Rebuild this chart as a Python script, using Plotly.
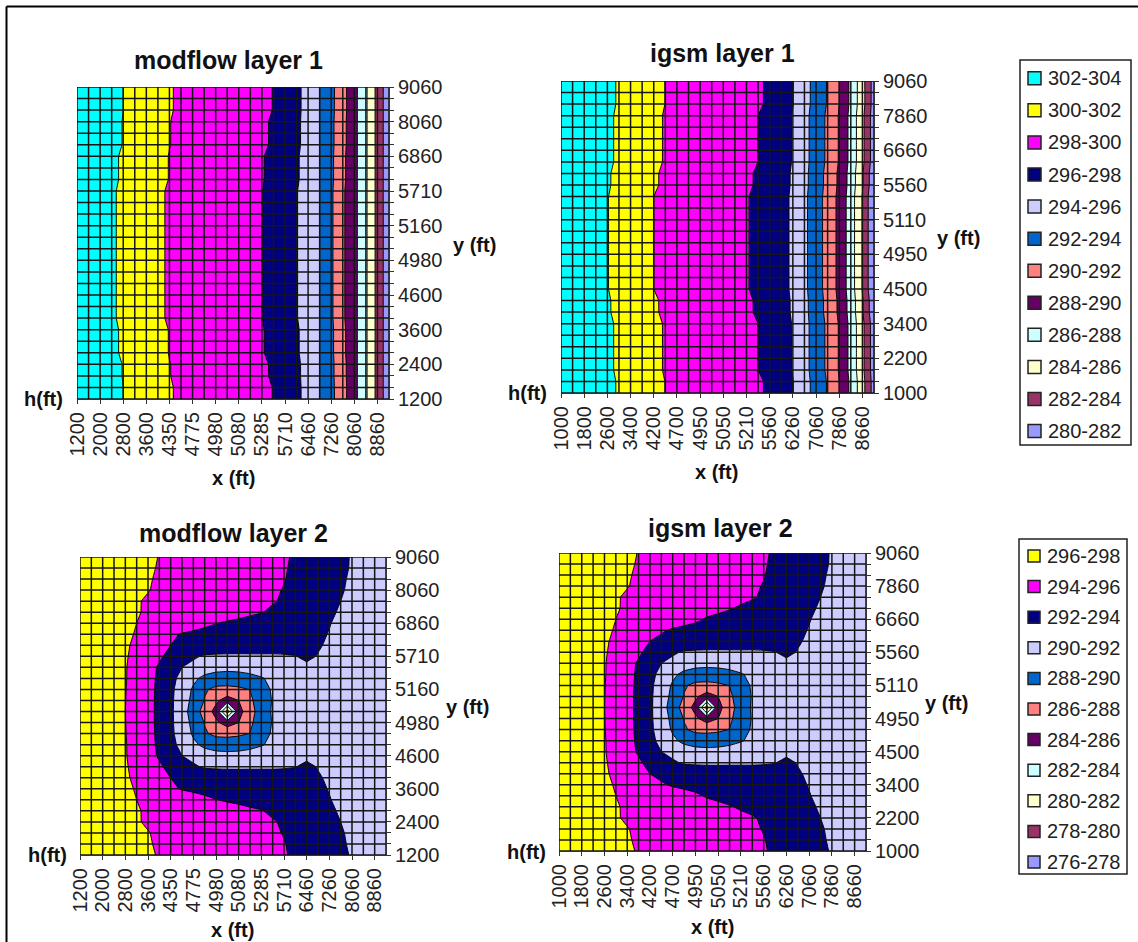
import plotly.graph_objects as go

# grid categories
MOD_CATS = ["1200","1600","2000","2400","2800","3200","3600","4000","4350","4600","4775","4900","4980","5020",
            "5080","5160","5285","5400","5710","6060","6460","6860","7260","7660","8060","8460","8860","9060"]
IGS_CATS = ["1000","1400","1800","2200","2600","3000","3400","3800","4200","4500","4700","4850","4950","5000",
            "5050","5110","5210","5300","5560","5900","6260","6660","7060","7460","7860","8260","8660","9060"]

# legends
LEG1_LABELS = ["302-304","300-302","298-300","296-298","294-296","292-294","290-292","288-290","286-288","284-286","282-284","280-282"]
LEG2_LABELS = ["296-298","294-296","292-294","290-292","288-290","286-288","284-286","282-284","280-282","278-280","276-278"]
COL1 = ["#00FFFF","#FFFF00","#FF00FF","#000080","#CCCCFF","#0066CC","#FF8080","#660066","#CCFFFF","#FFFFCC","#993366","#9999FF"]
COL2 = COL1[1:]

# modflow layer 1 head profiles along x
M1_T = [303.8,303.4,302.9,302.5,302.0,301.5,301.05,300.6,300.1,299.8,299.6,299.4,299.15,298.9,298.7,298.45,298.25,297.97,297.2,296.45,295.3,294.0,292.5,290.7,288.6,286.3,283.4,280.6]
M1_A = [303.75,303.35,302.85,302.45,301.95,301.45,301.0,300.55,300.03,299.75,299.55,299.35,299.1,298.85,298.65,298.4,298.2,297.85,297.1,296.4,295.25,294.0,292.45,290.6,288.6,286.3,283.4,280.6]
M1_B = [303.65,303.2,302.8,302.3,301.8,301.3,300.9,300.45,299.95,299.7,299.5,299.3,299.05,298.85,298.6,298.35,298.1,297.6,296.9,296.25,295.15,294.0,292.4,290.45,288.6,286.3,283.4,280.6]
M1_M = [303.6,303.1,302.7,302.2,301.7,301.2,300.8,300.3,299.8,299.6,299.4,299.2,299.0,298.8,298.5,298.3,298.03,297.4,296.7,296.1,295.0,294.0,292.3,290.3,288.6,286.3,283.4,280.6]
MOD_L1 = [M1_T,M1_T,M1_A,M1_A,M1_B,M1_B,M1_B,M1_M,M1_M,M1_M,M1_M,M1_M,M1_M,M1_M,M1_M,M1_M,M1_M,M1_M,M1_M,M1_B,M1_B,M1_B,M1_A,M1_A,M1_A,M1_T,M1_T,M1_T]

# igsm layer 1 head profiles along x
I1_T = [303.9,303.5,303.2,302.8,302.4,301.85,301.4,300.9,300.45,299.98,299.75,299.55,299.3,299.1,298.85,298.6,298.4,298.17,297.8,296.95,296.05,294.7,293.3,291.85,290.0,287.6,284.75,281.1]
I1_A = [303.8,303.4,303.1,302.7,302.3,301.75,301.3,300.8,300.3,299.9,299.7,299.45,299.2,299.0,298.75,298.5,298.3,298.0,297.6,296.8,295.9,294.6,293.1,291.65,289.85,287.4,284.5,280.9]
I1_B = [303.75,303.35,303.0,302.6,302.15,301.65,301.15,300.65,300.15,299.8,299.6,299.35,299.1,298.9,298.65,298.45,298.2,297.85,297.3,296.65,295.8,294.5,293.0,291.45,289.65,287.2,284.2,280.5]
I1_M = [303.7,303.3,302.9,302.5,302.05,301.55,301.05,300.5,300.0,299.75,299.5,299.3,299.05,298.8,298.6,298.35,298.1,297.65,297.05,296.6,295.7,294.4,292.9,291.3,289.5,287.0,283.9,280.1]
IGS_L1 = [I1_T,I1_T,I1_A,I1_A,I1_A,I1_A,I1_A,I1_B,I1_B,I1_M,I1_M,I1_M,I1_M,I1_M,I1_M,I1_M,I1_M,I1_M,I1_B,I1_B,I1_A,I1_A,I1_A,I1_A,I1_A,I1_T,I1_T,I1_T]

# layer 2 head profiles along x, one per grid row
R27 = [297.8,297.6,297.4,297.2,296.9,296.6,296.3,295.95,295.75,295.6,295.45,295.3,295.15,295.0,294.85,294.7,294.55,294.4,294.15,293.85,293.4,293.0,292.7,292.3,291.9,291.5,291.2,290.9]
R26 = [297.8,297.6,297.4,297.15,296.85,296.5,296.2,295.9,295.7,295.55,295.4,295.25,295.1,294.95,294.8,294.65,294.5,294.35,294.1,293.8,293.35,292.95,292.65,292.25,291.9,291.5,291.2,290.9]
R25 = [297.75,297.55,297.3,297.1,296.8,296.4,296.1,295.85,295.65,295.5,295.35,295.2,295.05,294.9,294.75,294.6,294.45,294.3,294.05,293.75,293.3,292.9,292.6,292.15,291.85,291.5,291.2,290.9]
R24 = [297.75,297.5,297.25,297.0,296.7,296.35,296.05,295.8,295.6,295.4,295.25,295.1,294.95,294.8,294.65,294.5,294.35,294.15,293.95,293.6,293.2,292.8,292.5,292.1,291.8,291.45,291.2,290.9]
R23 = [297.7,297.4,297.1,296.8,296.5,296.1,295.85,295.6,295.4,295.25,295.1,294.95,294.8,294.65,294.5,294.35,294.2,294.1,293.85,293.35,293.0,292.65,292.3,292.0,291.7,291.4,291.15,290.9]
R22 = [297.65,297.3,297.0,296.65,296.35,296.15,295.75,295.45,295.25,295.05,294.9,294.75,294.6,294.4,294.3,294.15,294.05,293.8,293.5,293.2,292.85,292.5,292.15,291.9,291.6,291.35,291.1,290.9]
R21 = [297.6,297.2,296.9,296.55,296.25,296.0,295.65,295.35,295.1,294.85,294.55,294.25,294.02,293.9,293.8,293.7,293.55,293.4,293.2,292.9,292.6,292.3,292.05,291.75,291.5,291.25,291.05,290.85]
R20 = [297.55,297.25,296.95,296.6,296.25,295.9,295.25,294.8,294.25,293.9,293.75,293.65,293.6,293.55,293.5,293.4,293.25,293.1,292.85,292.6,292.45,292.2,291.95,291.6,291.4,291.2,291.0,290.8]
R19 = [297.5,297.15,296.85,296.55,296.2,295.7,295.15,294.55,294.0,293.7,293.55,293.45,293.4,293.35,293.3,293.2,293.05,292.85,292.65,292.4,292.25,292.1,291.85,291.55,291.35,291.15,291.0,290.8]
R18 = [297.45,297.1,296.8,296.45,296.15,295.55,294.9,294.25,293.5,292.7,292.3,291.75,291.65,291.6,291.6,291.65,291.7,291.75,291.85,291.97,292.2,291.95,291.7,291.4,291.2,291.1,290.95,290.8]
R17 = [297.4,297.05,296.75,296.4,296.1,295.35,294.6,293.8,292.9,292.0,291.4,291.0,290.75,290.7,290.7,290.8,291.0,291.2,291.4,291.6,291.8,291.7,291.5,291.25,291.1,291.0,290.9,290.8]
R16 = [297.35,297.0,296.7,296.4,296.1,295.3,294.55,293.7,292.5,291.5,290.4,289.5,289.0,288.8,289.0,289.4,289.85,290.4,290.7,290.95,291.15,291.2,291.1,291.0,290.95,290.9,290.85,290.8]
R15 = [297.3,297.0,296.65,296.35,296.05,295.25,294.5,293.65,292.4,291.1,289.75,288.2,287.6,287.6,287.7,288.05,289.1,290.25,290.55,290.75,290.9,290.95,290.95,290.9,290.85,290.8,290.8,290.75]
R14 = [297.3,297.0,296.65,296.3,296.02,295.25,294.5,293.6,292.35,290.95,289.5,287.9,286.4,285.0,286.0,287.6,289.1,290.1,290.45,290.65,290.8,290.85,290.85,290.85,290.8,290.8,290.75,290.75]
R13 = [297.3,297.0,296.6,296.3,296.0,295.25,294.5,293.6,292.35,290.85,289.1,287.2,285.3,279.0,285.3,287.2,289.0,290.2,290.4,290.6,290.75,290.8,290.85,290.85,290.8,290.8,290.75,290.7]
MOD_L2 = [R26,R25,R24,R23,R22,R21,R20,R19,R18,R17,R16,R15,R14,R13,R14,R15,R16,R17,R18,R19,R20,R21,R22,R23,R24,R25,R26,R27]
# igsm layer 2 only differs noticeably from modflow on a few rows
I22 = [297.65,297.3,297.0,296.65,296.35,296.15,295.75,295.45,295.25,295.05,294.9,294.75,294.6,294.4,294.2,294.06,293.9,293.7,293.45,293.15,292.85,292.5,292.15,291.9,291.6,291.35,291.1,290.9]
I21 = [297.6,297.2,296.9,296.55,296.25,296.0,295.65,295.35,295.15,294.95,294.7,294.45,294.2,293.9,293.8,293.7,293.55,293.4,293.2,292.9,292.6,292.3,292.05,291.75,291.5,291.25,291.05,290.85]
I20 = [297.55,297.25,296.95,296.6,296.25,295.9,295.25,294.9,294.55,294.15,293.85,293.7,293.6,293.55,293.5,293.4,293.25,293.1,292.85,292.6,292.45,292.2,291.95,291.6,291.4,291.2,291.0,290.8]
IGS_L2 = [R26,R25,R24,R23,I22,I21,I20,R19,R18,R17,R16,R15,R14,R13,R14,R15,R16,R17,R18,R19,I20,I21,I22,R23,R24,R25,R26,R27]

PANELS = [
    dict(name="modflow layer 1", cats=MOD_CATS, z=MOD_L1, start=280, end=302, colors=COL1[::-1], box=(77,389,87,399),
         title=(228,60), xt=(233,478), yt=(474,245), ht=(43,399)),
    dict(name="igsm layer 1", cats=IGS_CATS, z=IGS_L1, start=280, end=302, colors=COL1[::-1], box=(561,874,81,393),
         title=(722,53), xt=(717,472), yt=(958,238), ht=(527,393)),
    dict(name="modflow layer 2", cats=MOD_CATS, z=MOD_L2, start=276, end=296, colors=COL2[::-1], box=(80,386,557,855),
         title=(233,533), xt=(232,930), yt=(467,707), ht=(47,855)),
    dict(name="igsm layer 2", cats=IGS_CATS, z=IGS_L2, start=276, end=296, colors=COL2[::-1], box=(559,866,553,851),
         title=(720,528), xt=(712,927), yt=(946,703), ht=(526,852)),
]
LEGENDS = [
    dict(labels=LEG1_LABELS, colors=COL1, box=(1020,1131,60,445), sw=(1028,1041), text=1047, first=78.3, step=32.07),
    dict(labels=LEG2_LABELS, colors=COL2, box=(1019,1127,539,874), sw=(1028,1040), text=1046, first=556, step=30.6),
]

W, H = 1138, 942
FONT = "Liberation Sans"
TXT = "#222222"
fig = go.Figure()
layout = {}
ann = []
shapes = []

def px(x): return x / W
def py(y): return 1 - y / H

def step_scale(colors):
    # plotly evaluates a filled band k of n contour levels at (k + 1) / n
    n = len(colors)
    return [[0, colors[0]]] + [[(k + 1) / n, colors[k]] for k in range(n)]

for i, p in enumerate(PANELS, start=1):
    xa, ya = f"x{i}", f"y{i}"
    cats = p["cats"]
    fig.add_trace(go.Contour(
        x=cats, y=cats, z=p["z"], xaxis=xa, yaxis=ya,
        autocontour=False,
        contours=dict(start=p["start"], end=p["end"], size=2, coloring="fill", showlines=True),
        colorscale=step_scale(p["colors"]),
        line=dict(color="#000000", width=1, smoothing=0),
        showscale=False, hoverinfo="skip", showlegend=False,
    ))
    gx, gy = [], []
    for c in cats:
        gx += [c, c, None]; gy += [cats[0], cats[-1], None]
    for c in cats:
        gx += [cats[0], cats[-1], None]; gy += [c, c, None]
    fig.add_trace(go.Scatter(x=gx, y=gy, xaxis=xa, yaxis=ya, mode="lines",
                             line=dict(color="#151515", width=1.5), hoverinfo="skip", showlegend=False))
    l, r, t, b = p["box"]
    layout[f"xaxis{i}"] = dict(
        domain=[px(l), px(r)], anchor=ya, type="category", categoryorder="array", categoryarray=cats,
        range=[0, 27], tickmode="array", tickvals=cats[::2], ticktext=cats[::2], tickangle=-90,
        ticks="outside", ticklen=4, tickcolor="#333333", showgrid=False, zeroline=False,
        showline=True, linecolor="#333333", linewidth=1, tickfont=dict(size=20, family=FONT, color=TXT))
    layout[f"yaxis{i}"] = dict(
        domain=[py(b), py(t)], anchor=xa, side="right", type="category", categoryorder="array", categoryarray=cats,
        range=[0, 27], tickmode="array", tickvals=cats,
        ticktext=[c if k % 3 == 0 else "" for k, c in enumerate(cats)],
        ticks="outside", ticklen=4, tickcolor="#333333", showgrid=False, zeroline=False,
        showline=True, linecolor="#333333", linewidth=1, tickfont=dict(size=20, family=FONT, color=TXT))
    for key, txt, size in (("title", p["name"], 25), ("xt", "x (ft)", 20), ("yt", "y (ft)", 20), ("ht", "h(ft)", 20)):
        ax, ay = p[key]
        ann.append(dict(x=px(ax), y=py(ay), xref="paper", yref="paper", text=f"<b>{txt}</b>", showarrow=False,
                        xanchor="center", yanchor="middle", font=dict(size=size, family=FONT, color="#111111")))

for leg in LEGENDS:
    l, r, t, b = leg["box"]
    shapes.append(dict(type="rect", xref="paper", yref="paper", x0=px(l), x1=px(r), y0=py(b), y1=py(t),
                       line=dict(color="#222222", width=1.5), fillcolor="#FFFFFF"))
    s0, s1 = leg["sw"]
    half = (s1 - s0) / 2
    for k, (lab, col) in enumerate(zip(leg["labels"], leg["colors"])):
        yc = leg["first"] + k * leg["step"]
        shapes.append(dict(type="rect", xref="paper", yref="paper", x0=px(s0), x1=px(s1), y0=py(yc + half), y1=py(yc - half),
                           line=dict(color="#222222", width=1.5), fillcolor=col))
        ann.append(dict(x=px(leg["text"]), y=py(yc), xref="paper", yref="paper", text=lab, showarrow=False,
                        xanchor="left", yanchor="middle", xshift=-1, font=dict(size=20, family=FONT, color=TXT)))

shapes += [
    dict(type="line", xref="paper", yref="paper", x0=px(6.5), x1=1, y0=py(6.5), y1=py(6.5), line=dict(color="#000000", width=2)),
    dict(type="line", xref="paper", yref="paper", x0=px(6.5), x1=px(6.5), y0=py(6.5), y1=0, line=dict(color="#000000", width=2)),
]

fig.update_layout(
    width=W, height=H, margin=dict(l=0, r=0, t=0, b=0, autoexpand=False),
    paper_bgcolor="#FFFFFF", plot_bgcolor="#FFFFFF", annotations=ann, shapes=shapes, showlegend=False,
    **layout,
)
fig.write_html("out.html", config={"displayModeBar": False},
               post_script="document.body.style.margin='0';document.body.style.overflow='hidden';")
